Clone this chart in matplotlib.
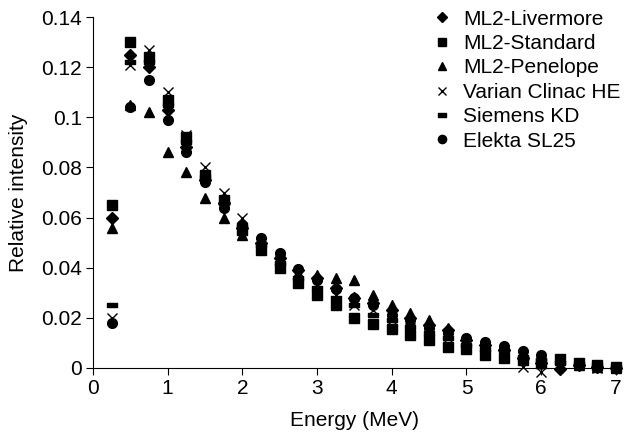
import matplotlib
matplotlib.use("Agg")
import matplotlib.pyplot as plt
from matplotlib.path import Path
from matplotlib.ticker import FuncFormatter
import numpy as np

plt.rcParams['font.family'] = ['Liberation Sans', 'DejaVu Sans']

energy = np.arange(1, 29) * 0.25

livermore = [0.060, 0.125, 0.120, 0.103, 0.088, 0.075, 0.066, 0.056, 0.050, 0.044,
             0.039, 0.036, 0.032, 0.028, 0.026, 0.023, 0.020, 0.017, 0.015, 0.011,
             0.009, 0.007, 0.004, 0.002, -0.0005, 0.001, 0.0005, 0.0]
standard = [0.065, 0.130, 0.124, 0.107, 0.092, 0.077, 0.067, 0.055, 0.047, 0.040,
            0.034, 0.029, 0.025, 0.020, 0.0175, 0.0155, 0.013, 0.011, 0.0085, 0.0075,
            0.005, 0.004, 0.003, 0.002, 0.0035, 0.002, 0.001, 0.0005]
penelope = [0.056, 0.105, 0.102, 0.086, 0.078, 0.068, 0.060, 0.053, 0.049, 0.044,
            0.038, 0.037, 0.036, 0.035, 0.029, 0.025, 0.022, 0.019, 0.016, 0.011,
            0.009, 0.007, 0.004, 0.002, 0.001, 0.001, 0.0005, 0.0]
varian = [0.020, 0.121, 0.127, 0.110, 0.093, 0.080, 0.070, 0.060, 0.050, 0.043,
          0.037, 0.033, 0.029, 0.025, 0.023, 0.019, 0.016, 0.014, 0.012, 0.010,
          0.007, 0.005, 0.0005, -0.0015, 0.001, 0.001, 0.0, 0.0]
siemens = [0.025, 0.122, 0.122, 0.105, 0.090, 0.076, 0.066, 0.057, 0.049, 0.042,
           0.036, 0.032, 0.028, 0.025, 0.021, 0.019, 0.0165, 0.014, 0.012, 0.009,
           0.0077, 0.007, 0.004, 0.003, 0.002, 0.0015, 0.001, 0.0005]
elekta = [0.018, 0.104, 0.115, 0.099, 0.086, 0.074, 0.064, 0.057, 0.052, 0.046,
          0.0395, 0.035, 0.0315, 0.028, 0.025, 0.021, 0.019, 0.016, 0.014, 0.012,
          0.0105, 0.0088, 0.0068, 0.0052, 0.003, 0.002, 0.001, 0.0005]

# short filled bar for the Siemens series
bar = Path([(-1, -0.45), (1, -0.45), (1, 0.45), (-1, 0.45), (-1, -0.45)],
           [Path.MOVETO, Path.LINETO, Path.LINETO, Path.LINETO, Path.CLOSEPOLY])

fig = plt.figure(figsize=(6.24, 4.38), dpi=100)
ax = fig.add_axes([0.149, 0.160, 0.838, 0.801])

ax.plot(energy, livermore, 'D', color='black', ms=6.5, ls='none', label='ML2-Livermore', clip_on=False)
ax.plot(energy, standard, 's', color='black', ms=6.5, ls='none', label='ML2-Standard', clip_on=False)
ax.plot(energy, penelope, '^', color='black', ms=7.5, ls='none', label='ML2-Penelope', clip_on=False)
ax.plot(energy, varian, 'x', color='black', ms=7, mew=1.0, ls='none', label='Varian Clinac HE', clip_on=False)
ax.plot(energy, siemens, marker=bar, color='black', ms=6.5, ls='none', label='Siemens KD', clip_on=False)
ax.plot(energy, elekta, 'o', color='black', ms=7, ls='none', label='Elekta SL25', clip_on=False)

ax.set_xlim(0, 7)
ax.set_ylim(0, 0.14)
ax.set_xticks(range(0, 8))
ax.set_yticks(np.arange(0, 0.141, 0.02))
ax.yaxis.set_major_formatter(FuncFormatter(lambda v, p: '%g' % round(v, 2)))
ax.spines['top'].set_visible(False)
ax.spines['right'].set_visible(False)
ax.tick_params(direction='out', length=5, labelsize=15, pad=3)
ax.set_xlabel('Energy (MeV)', fontsize=15, labelpad=9)
ax.set_ylabel('Relative intensity', fontsize=15, labelpad=9)

ax.legend(loc='upper right', bbox_to_anchor=(0.995, 0.978), bbox_transform=fig.transFigure,
          frameon=False, fontsize=15, handlelength=0.9, handletextpad=0.6,
          labelspacing=0.26, borderaxespad=0, borderpad=0, markerscale=0.85)

fig.savefig('out.png', dpi=100)
